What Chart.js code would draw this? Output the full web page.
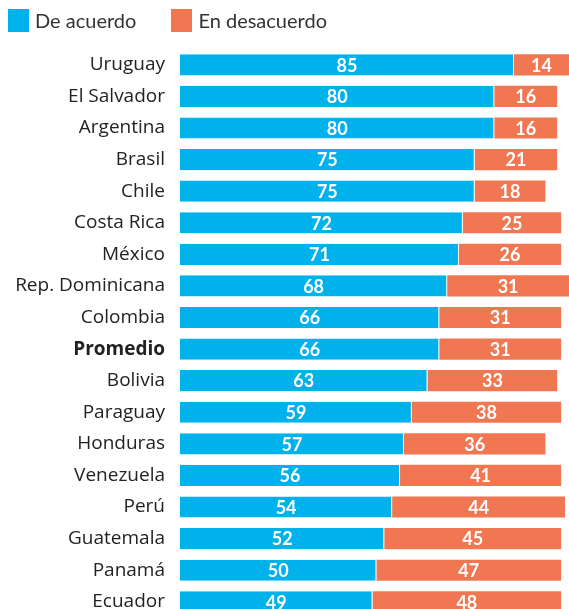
<!DOCTYPE html>
<html>
<head>
<meta charset="utf-8">
<script src="https://cdn.jsdelivr.net/npm/chart.js@4"></script>
<style>
  html, body { margin: 0; padding: 0; background: #fff; overflow: hidden; }
  #wrap { position: relative; width: 569px; height: 636px; }
  #legend { position: absolute; left: 8px; top: 8px; display: flex; font-family: Lato, "Open Sans", sans-serif; font-size: 20px; color: #333; z-index: 2; }
  .item { display: flex; align-items: center; margin-right: 35px; }
  .box { width: 21px; height: 23px; margin-right: 6px; }
</style>
</head>
<body>
<div id="wrap">
  <div id="legend"></div>
  <canvas id="chart" width="569" height="636"></canvas>
</div>
<script>
// Data
const countries = ["Uruguay", "El Salvador", "Argentina", "Brasil", "Chile", "Costa Rica", "México",
  "Rep. Dominicana", "Colombia", "Promedio", "Bolivia", "Paraguay", "Honduras", "Venezuela",
  "Perú", "Guatemala", "Panamá", "Ecuador"];
const agree = [85, 80, 80, 75, 75, 72, 71, 68, 66, 66, 63, 59, 57, 56, 54, 52, 50, 49];
const disagree = [14, 16, 16, 21, 18, 25, 26, 31, 31, 31, 33, 38, 36, 41, 44, 45, 47, 48];
const seriesNames = ["De acuerdo", "En desacuerdo"];
const colors = ["#00b2ec", "#f07752"];

// HTML legend
const legend = document.getElementById("legend");
seriesNames.forEach((name, i) => {
  legend.innerHTML += `<div class="item"><span class="box" style="background:${colors[i]}"></span>${name}</div>`;
});

// draw values in the middle of each bar
const barLabels = {
  id: "barLabels",
  afterDatasetsDraw(chart) {
    const ctx = chart.ctx;
    ctx.save();
    ctx.fillStyle = "#fff";
    ctx.font = "bold 18px Lato, 'Open Sans', sans-serif";
    ctx.textAlign = "center";
    ctx.textBaseline = "middle";
    chart.data.datasets.forEach((ds, di) => {
      chart.getDatasetMeta(di).data.forEach((bar, i) => {
        const p = bar.getProps(["x", "y", "base"], true);
        ctx.fillText(ds.data[i], (p.x + p.base) / 2, p.y + 1);
      });
    });
    ctx.restore();
  },
};

new Chart(document.getElementById("chart"), {
  type: "bar",
  data: {
    labels: countries,
    datasets: [
      {
        label: seriesNames[0],
        data: agree,
        backgroundColor: colors[0],
        borderColor: "#fff",
        borderWidth: { right: 1 },
        borderSkipped: "start",
      },
      {
        label: seriesNames[1],
        data: disagree,
        backgroundColor: colors[1],
        borderWidth: 0,
      },
    ],
  },
  options: {
    indexAxis: "y",
    responsive: false,
    animation: false,
    layout: { padding: { top: 49, right: 0, bottom: 0, left: 0 } },
    datasets: { bar: { categoryPercentage: 1, barPercentage: 0.67 } },
    plugins: {
      legend: { display: false },
      tooltip: { enabled: false },
    },
    scales: {
      x: {
        stacked: true,
        display: false,
        min: 0,
        max: 99,
      },
      y: {
        stacked: true,
        grid: { display: false },
        border: { display: false },
        afterFit: (scale) => { scale.width = 180; },
        ticks: {
          padding: 7,
          color: "#222",
          font: (c) => ({
            family: "'Open Sans', Lato, sans-serif",
            size: 19,
            weight: c.index === 9 ? "bold" : "normal",
          }),
        },
      },
    },
  },
  plugins: [barLabels],
});
</script>
</body>
</html>
